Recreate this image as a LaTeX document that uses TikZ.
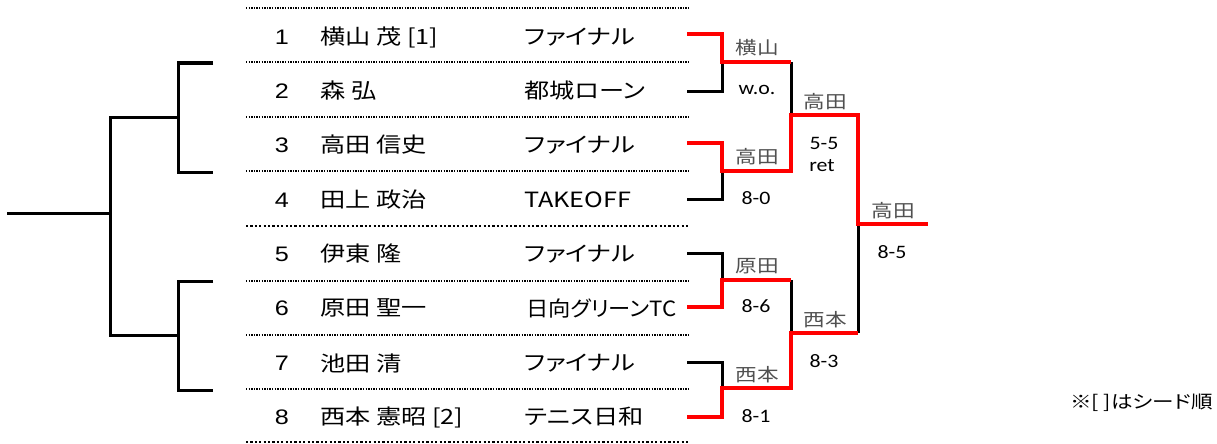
\documentclass[tikz,border=0pt]{standalone}
\usepackage{fontspec}
\setmainfont{Liberation Sans}[FakeStretch=1.2]
\newfontfamily\jp{Noto Sans CJK JP}[FakeStretch=1.2,RawFeature=+palt]
\newfontfamily\jpc{Noto Sans CJK JP}[FakeStretch=1.06,RawFeature=+palt]
\newfontfamily\jpn{Noto Sans CJK JP}[FakeStretch=1.2]
\newfontfamily\scorefont{Carlito}[FakeStretch=1.15]
\definecolor{wingray}{HTML}{505050}
\begin{document}
\begin{tikzpicture}[x=1pt,y=-1pt,
  blk/.style={line width=3pt, black, line join=miter},
  win/.style={line width=4pt, red, line join=miter},
  sepwave/.style={line width=1.3pt, dash pattern=on 1.3pt off 1.3pt},
  sepdot/.style={line width=2.2pt, dash pattern=on 2.2pt off 2.2pt},
  numsty/.style={font=\fontsize{21}{24}\selectfont, inner sep=0pt},
  pnamesty/.style={font=\jpn\fontsize{21}{24}\selectfont, anchor=west, inner sep=0pt},
  clubsty/.style={font=\jp\fontsize{21}{24}\selectfont, anchor=west, inner sep=0pt},
  wnamesty/.style={font=\jpn\fontsize{18}{20}\selectfont, text=wingray, inner sep=0pt},
  scoresty/.style={font=\scorefont\fontsize{19}{21}\selectfont, inner sep=0pt},
  notesty/.style={font=\jp\fontsize{18}{20}\selectfont, anchor=east, inner sep=0pt}]
\useasboundingbox (0,0) rectangle (1217,444);
% separators
\foreach \y/\s in {8/sepwave,62/sepwave,117/sepwave,171/sepwave,226/sepdot,281/sepwave,335/sepwave,389/sepwave,442/sepdot}
  \draw[\s] (246,\y) -- (690,\y);
% rows
\node[numsty] (n1) at (282,37) {1};
\node[numsty] (n2) at (282,91) {2};
\node[numsty] (n3) at (282,145) {3};
\node[numsty] (n4) at (282,200) {4};
\node[numsty] (n5) at (282,254) {5};
\node[numsty] (n6) at (282,308) {6};
\node[numsty] (n7) at (282,363) {7};
\node[numsty] (n8) at (282,417) {8};
\node[pnamesty] (p1) at (320,37) {横山 茂 [1]};
\node[pnamesty] (p2) at (320,91) {森 弘};
\node[pnamesty] (p3) at (320,145) {高田 信史};
\node[pnamesty] (p4) at (320,200) {田上 政治};
\node[pnamesty] (p5) at (320,254) {伊東 隆};
\node[pnamesty] (p6) at (320,308) {原田 聖一};
\node[pnamesty] (p7) at (320,363) {池田 清};
\node[pnamesty] (p8) at (320,417) {西本 憲昭 [2]};
\node[clubsty] (c1) at (524,37) {ファイナル};
\node[clubsty] (c2) at (524,91) {都城ローン};
\node[clubsty] (c3) at (524,145) {ファイナル};
\node[clubsty] (c4) at (524,200) {TAKEOFF};
\node[clubsty] (c5) at (524,254) {ファイナル};
\node[clubsty, font=\jpc\fontsize{21}{24}\selectfont] (c6) at (526,308) {日向グリーンTC};
\node[clubsty] (c7) at (524,363) {ファイナル};
\node[clubsty] (c8) at (524,417) {テニス日和};
% left bracket
\coordinate (L1) at (213,63); \coordinate (L2) at (213,172);
\coordinate (L3) at (213,281); \coordinate (L4) at (213,390);
\coordinate (LA) at (178,117); \coordinate (LB) at (178,335);
\coordinate (LR) at (7,213);
\draw[blk] (L1) -| (LA) |- (L2);
\draw[blk] (L3) -| (LB) |- (L4);
\draw[blk] (LA) -- (110,117) -- (110,335) -- (LB);
\draw[blk] (LR) -- (110,213);
% right bracket coordinates
\coordinate (r1) at (687,34); \coordinate (r2) at (687,91);
\coordinate (r3) at (687,143); \coordinate (r4) at (687,199);
\coordinate (r5) at (687,253); \coordinate (r6) at (687,307);
\coordinate (r7) at (687,362); \coordinate (r8) at (687,417);
\coordinate (m1) at (791,62); \coordinate (m2) at (791,171);
\coordinate (m3) at (791,280); \coordinate (m4) at (791,388);
\coordinate (s1) at (858,115); \coordinate (s2) at (858,333);
\coordinate (f) at (928,224);
% black
\draw[blk] (r2) -| (722,62);
\draw[blk] (r4) -| (722,171);
\draw[blk] (r5) -| (722,280);
\draw[blk] (r7) -| (722,388);
\draw[blk] (m1) -- (791,115);
\draw[blk] (m3) -- (791,333);
\draw[blk] (s2) -- (858,224);
% red (winners)
\draw[win] (r1) -| (722,62) -- (m1);
\draw[win] (r3) -| (722,171) -- (m2) -- (791,115) -- (s1) -- (858,224) -- (f);
\draw[win] (r6) -| (722,280) -- (m3);
\draw[win] (r8) -| (722,388) -- (m4) -- (791,333) -- (s2);
% labels
\node[wnamesty] (w1) at (757,48) {横山};
\node[scoresty] (sc1) at (757,90) {w.o.};
\node[wnamesty] (w2) at (757,157) {高田};
\node[scoresty] (sc2) at (756,198) {8-0};
\node[wnamesty] (w3) at (825,102) {高田};
\node[scoresty] (sc3) at (824,143) {5-5};
\node[scoresty] (sc3b) at (822,166) {ret};
\node[wnamesty] (w5) at (893,211) {高田};
\node[scoresty] (sc5) at (892,252) {8-5};
\node[wnamesty] (w6) at (757,266) {原田};
\node[scoresty] (sc6) at (756,306) {8-6};
\node[wnamesty] (w4) at (825,320) {西本};
\node[scoresty] (sc4) at (824,361) {8-3};
\node[wnamesty] (w7) at (757,375) {西本};
\node[scoresty] (sc7) at (756,416) {8-1};
\node[notesty] (nt) at (1213,403) {※[ ]はシード順};
\end{tikzpicture}
\end{document}
